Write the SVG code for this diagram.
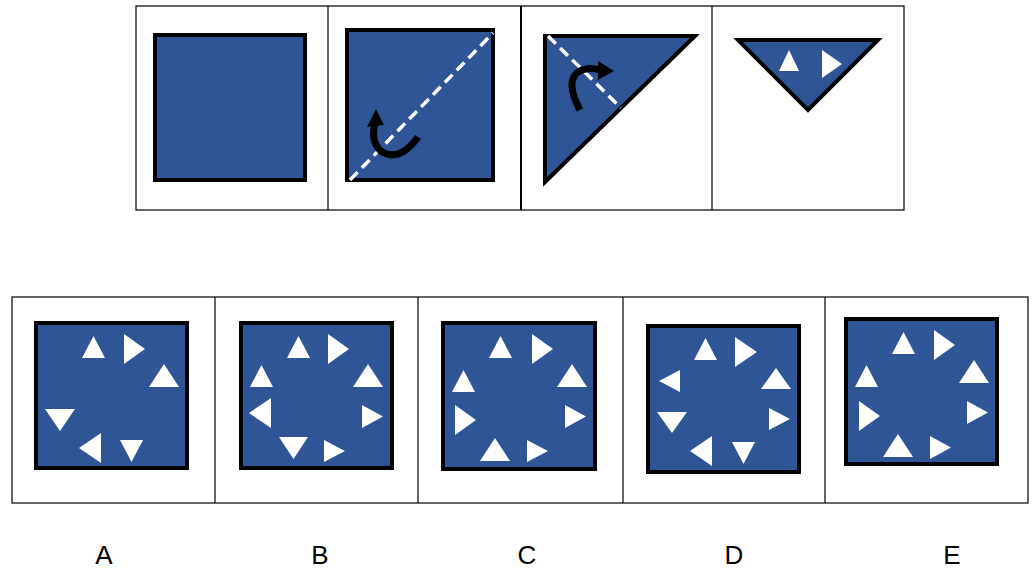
<svg xmlns="http://www.w3.org/2000/svg" width="1036" height="580" viewBox="0 0 1036 580">
<style>
.frame{fill:none;stroke:#000;stroke-width:1.2}
.sq{fill:#2F5597;stroke:#000;stroke-width:4}
.t{fill:#fff}
.dash{stroke:#fff;stroke-width:3.5;stroke-dasharray:11,6;fill:none}
.arr{fill:none;stroke:#000;stroke-width:7}
.lbl{font-family:"Liberation Sans",Arial,sans-serif;font-size:26px;fill:#000;text-anchor:middle}
</style>
<rect width="1036" height="580" fill="#fff"/>
<g id="top">
<rect class="frame" x="136" y="6" width="768" height="204"/>
<line class="frame" x1="328" y1="6" x2="328" y2="210"/>
<line x1="521" y1="6" x2="521" y2="210" stroke="#000" stroke-width="2"/>
<line class="frame" x1="712" y1="6" x2="712" y2="210"/>
<rect class="sq" x="155" y="35" width="150" height="145"/>
<rect class="sq" x="347" y="30" width="146" height="150"/>
<line class="dash" x1="350" y1="180" x2="493" y2="33"/>
<path class="arr" d="M418,137 Q400,162 382,152 Q370,142 375,124"/>
<polygon points="367,127 384,125 376,109"/>
<polygon class="sq" points="545,36 695,36 545,182"/>
<line class="dash" x1="548" y1="36" x2="621" y2="108"/>
<path class="arr" d="M580,110 Q565,82 578,72 Q588,66 600,70"/>
<polygon points="598,61 598,80 614,71"/>
<polygon class="sq" points="738,40 878,40 808,110"/>
<polygon class="t" points="789,50 779,71 799,71"/>
<polygon class="t" points="822,50 842,64 822,78"/>
</g>
<g id="options">
<rect class="frame" x="12" y="297" width="1016" height="206"/>
<line class="frame" x1="215" y1="297" x2="215" y2="503"/>
<line class="frame" x1="418" y1="297" x2="418" y2="503"/>
<line class="frame" x1="623" y1="297" x2="623" y2="503"/>
<line class="frame" x1="825" y1="297" x2="825" y2="503"/>
</g>
<g id="A">
<rect class="sq" x="36" y="323" width="151" height="145"/>
<polygon class="t" points="93.5,336 82,358 105,358"/>
<polygon class="t" points="124,334 145,349 124,364"/>
<polygon class="t" points="164,364 149,387 179,387"/>
<polygon class="t" points="45,409 75,409 60,431"/>
<polygon class="t" points="101,433 79,448 101,463"/>
<polygon class="t" points="120,440 143,440 131.5,462"/>
</g>
<g id="B">
<rect class="sq" x="241" y="323" width="151" height="145"/>
<polygon class="t" points="298.5,336 287,358 310,358"/>
<polygon class="t" points="328,334 349,349 328,364"/>
<polygon class="t" points="261.5,365 250,387 273,387"/>
<polygon class="t" points="368,364 353,387 383,387"/>
<polygon class="t" points="271,398 249,413 271,428"/>
<polygon class="t" points="362,405 383,416.5 362,428"/>
<polygon class="t" points="279,437 308,437 293.5,459"/>
<polygon class="t" points="324,440 345,451 324,462"/>
</g>
<g id="C">
<rect class="sq" x="443" y="323" width="152" height="146"/>
<polygon class="t" points="500.5,336 489,358 512,358"/>
<polygon class="t" points="532,334 553,349 532,364"/>
<polygon class="t" points="463.5,370 452,392 475,392"/>
<polygon class="t" points="572,364 557,387 587,387"/>
<polygon class="t" points="455,405 476,420 455,435"/>
<polygon class="t" points="565,405 586,416.5 565,428"/>
<polygon class="t" points="495,438 480,461 510,461"/>
<polygon class="t" points="527,440 548,451 527,462"/>
</g>
<g id="D">
<rect class="sq" x="648" y="326" width="151" height="146"/>
<polygon class="t" points="705.5,338 694,360 717,360"/>
<polygon class="t" points="735,337 757,352 735,367"/>
<polygon class="t" points="680,370 659,381 680,392"/>
<polygon class="t" points="776,368 761,389 791,389"/>
<polygon class="t" points="657,412 687,412 672,433"/>
<polygon class="t" points="769,408 790,419 769,430"/>
<polygon class="t" points="712,436 690,451 712,466"/>
<polygon class="t" points="732,442 755,442 743.5,464"/>
</g>
<g id="E">
<rect class="sq" x="846" y="319" width="151" height="145"/>
<polygon class="t" points="903.5,332 892,354 915,354"/>
<polygon class="t" points="934,330 955,345 934,360"/>
<polygon class="t" points="866.5,365 855,387 878,387"/>
<polygon class="t" points="974,360 959,383 989,383"/>
<polygon class="t" points="859,401 880,416 859,431"/>
<polygon class="t" points="967,401 988,412.5 967,424"/>
<polygon class="t" points="898,434 883,457 913,457"/>
<polygon class="t" points="930,436 951,447.5 930,459"/>
</g>
<g id="labels">
<text class="lbl" x="104" y="564">A</text>
<text class="lbl" x="320" y="564">B</text>
<text class="lbl" x="527" y="564">C</text>
<text class="lbl" x="734" y="564">D</text>
<text class="lbl" x="952" y="564">E</text>
</g>
</svg>
